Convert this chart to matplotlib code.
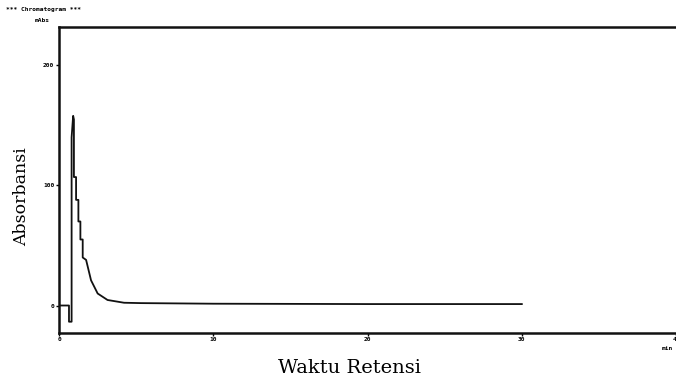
import matplotlib.pyplot as plt

# Chromatogram trace (minutes, mAbs)
time_min = [0.0, 0.63, 0.63, 0.8, 0.8, 0.9, 0.95, 0.95, 1.09, 1.09, 1.24, 1.24,
            1.37, 1.37, 1.52, 1.52, 1.74, 2.06, 2.49, 3.13, 4.2, 5.3, 10.0,
            20.0, 30.0]
absorb = [0.0, 0.0, -13.5, -13.5, 140.0, 158.0, 155.0, 107.0, 107.0, 88.0, 88.0, 70.0,
          70.0, 55.0, 55.0, 40.0, 38.0, 21.0, 10.0, 4.6, 2.3, 2.0, 1.5,
          1.2, 1.2]

x_ticks = [0, 10, 20, 30, 40]
x_tick_labels = ["0", "10", "20", "30", "40"]
y_ticks = [0, 100, 200]
y_tick_labels = ["0", "100", "200"]

fig = plt.figure(figsize=(6.76, 3.8), dpi=100)
ax = fig.add_axes([58.5 / 676, 47 / 380, 1 - 58.5 / 676, 306 / 380])

ax.plot(time_min, absorb, color="#111111", lw=1.3)

ax.set_xlim(-0.05, 39.7)
ax.set_ylim(-22.9, 232)

for side in ["left", "bottom", "top"]:
    ax.spines[side].set_linewidth(1.8)
    ax.spines[side].set_color("#111111")
ax.spines["right"].set_visible(False)

ax.set_xticks(x_ticks)
ax.set_xticklabels(x_tick_labels, fontsize=4.5, fontweight="bold", family="DejaVu Sans Mono")
ax.set_yticks(y_ticks)
ax.set_yticklabels(y_tick_labels, fontsize=4.5, fontweight="bold", family="DejaVu Sans Mono")
ax.tick_params(axis="both", length=2, width=1, pad=1)

# axis titles placed where the scan has them
fig.text(349 / 676, 1 - 368 / 380, "Waktu Retensi", family="DejaVu Serif", fontsize=14,
         ha="center", va="center")
fig.text(22 / 676, 1 - 197 / 380, "Absorbansi", family="DejaVu Serif", fontsize=12.5,
         ha="center", va="center", rotation=90)

# header text of the instrument printout
fig.text(6 / 676, 1 - 10 / 380, "*** Chromatogram ***", fontsize=4.5, fontweight="bold",
         family="DejaVu Sans Mono", va="center")
fig.text(35 / 676, 1 - 21 / 380, "mAbs", fontsize=4.5, fontweight="bold",
         family="DejaVu Sans Mono", va="center")
fig.text(662 / 676, 1 - 348 / 380, "min", fontsize=4.5, fontweight="bold",
         family="DejaVu Sans Mono", va="center")

fig.savefig("out.png", dpi=100)
